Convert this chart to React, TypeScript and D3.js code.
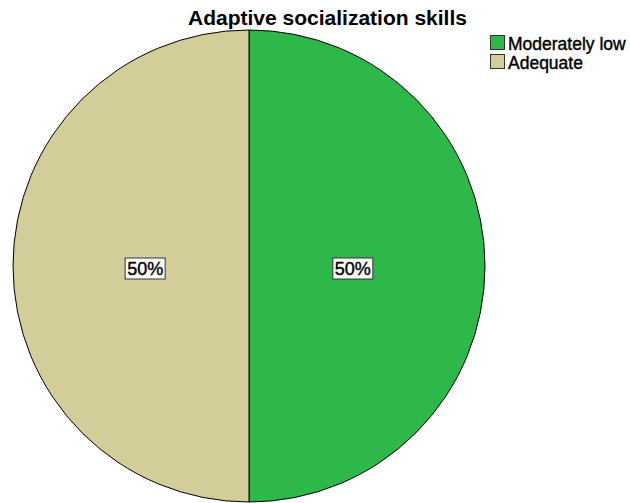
import React from "react";
import * as d3 from "d3";

const categories = ["Moderately low", "Adequate"];
const values = [50, 50];
const colors = ["#2fb84a", "#d3cd9a"];
const title = "Adaptive socialization skills";

export default function App() {
  const W = 630, H = 503;
  const cx = 249, cy = 266, r = 236;
  const pie = d3.pie<number>().sort(null).startAngle(0).endAngle(2 * Math.PI)(values);
  const arc = d3.arc<d3.PieArcDatum<number>>().innerRadius(0).outerRadius(r);
  const total = d3.sum(values);
  const labelArc = d3.arc<d3.PieArcDatum<number>>().innerRadius(r * 0.44).outerRadius(r * 0.44);
  return (
    <svg width={W} height={H} style={{ position: "absolute", left: 0, top: 0, background: "#fff" }}
      fontFamily="Liberation Sans, Arial, sans-serif">
      <text x={327.5} y={25} textAnchor="middle" fontSize={21} fontWeight="bold" fill="#000">{title}</text>
      <g transform={`translate(${cx},${cy})`}>
        {pie.map((d, i) => (
          <path key={i} d={arc(d) || ""} fill={colors[i]} stroke="#000" strokeWidth={1} />
        ))}
        {pie.map((d, i) => {
          const [x, y] = labelArc.centroid(d);
          const txt = `${Math.round((d.data / total) * 100)}%`;
          return (
            <g key={"l" + i} transform={`translate(${x},${y + 2})`}>
              <rect x={-20} y={-10} width={40} height={21} fill="#fff" stroke="#333" strokeWidth={1} />
              <text x={0} y={7} textAnchor="middle" fontSize={18} fill="#000" stroke="#000" strokeWidth={0.4}>{txt}</text>
            </g>
          );
        })}
      </g>
      <g>
        {categories.map((c, i) => (
          <g key={c} transform={`translate(490,${35 + i * 19})`}>
            <rect x={0.5} y={0.5} width={14} height={14} fill={colors[i]} stroke="#333" strokeWidth={1} />
            <text x={18} y={15} fontSize={17.5} fill="#000" stroke="#000" strokeWidth={0.4}>{c}</text>
          </g>
        ))}
      </g>
    </svg>
  );
}
